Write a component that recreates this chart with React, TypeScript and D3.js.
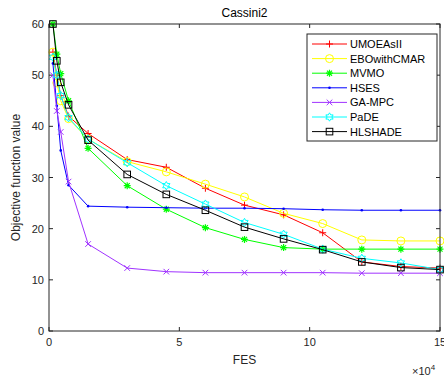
import React from "react";
import * as d3 from "d3";

const fes = [0.15, 0.3, 0.45, 0.75, 1.5, 3, 4.5, 6, 7.5, 9, 10.5, 12, 13.5, 15];
const umoeasII = [54.5, 50, 46, 42, 38.6, 33.5, 32, 27.9, 24.6, 22.7, 19.2, 13.5, 12.6, 12.3];
const eboWithCmar = [54.5, 48.5, 45, 41.5, 37.5, 33.1, 31.1, 28.7, 26.2, 23.0, 21.0, 17.8, 17.6, 17.6];
const mvmo = [60, 54.1, 50.3, 45, 35.7, 28.4, 23.8, 20.2, 17.9, 16.3, 16.0, 16.0, 16.0, 16.0];
const hses = [52.3, 44, 35.3, 28.5, 24.4, 24.2, 24.1, 24.0, 24.0, 23.9, 23.7, 23.6, 23.6, 23.6];
const gaMpc = [50, 43, 38.9, 29.2, 17, 12.3, 11.6, 11.4, 11.4, 11.4, 11.4, 11.3, 11.3, 11.3];
const paDE = [53.5, 50, 46, 41.7, 37.5, 32.9, 28.4, 24.8, 21.2, 18.9, 16.0, 14.2, 13.3, 12.0];
const hlshade = [60, 52.8, 48.6, 44.2, 37.3, 30.6, 26.7, 23.6, 20.3, 18.0, 15.9, 13.5, 12.4, 12.0];

const seriesNames = ["UMOEAsII", "EBOwithCMAR", "MVMO", "HSES", "GA-MPC", "PaDE", "HLSHADE"];
const seriesValues = [umoeasII, eboWithCmar, mvmo, hses, gaMpc, paDE, hlshade];
const seriesColors = ["#ff0000", "#ffff00", "#00ff00", "#0000ff", "#a033ff", "#00ffff", "#000000"];
const seriesMarkers = ["plus", "circle", "star", "dot", "cross", "hexagram", "square"];

const xTicks = [0, 5, 10, 15];
const yTicks = [0, 10, 20, 30, 40, 50, 60];

const W = 444, H = 378;
const L = 49, R = 440, T = 24, B = 331;
const FONT = "'Liberation Sans', Arial, Helvetica, sans-serif";
const AX = "#262626";

function Marker({ kind, x, y, color }: { kind: string; x: number; y: number; color: string }) {
  const s = 3.5;
  switch (kind) {
    case "plus":
      return <path d={`M${x - s},${y}H${x + s}M${x},${y - s}V${y + s}`} stroke={color} strokeWidth={1} fill="none" />;
    case "circle":
      return <circle cx={x} cy={y} r={4} stroke={color} strokeWidth={1} fill="none" />;
    case "star": {
      const d = s * 0.72;
      return (
        <path
          d={`M${x - s},${y}H${x + s}M${x},${y - s}V${y + s}M${x - d},${y - d}L${x + d},${y + d}M${x - d},${y + d}L${x + d},${y - d}`}
          stroke={color}
          strokeWidth={1.2}
          fill="none"
        />
      );
    }
    case "dot":
      return <circle cx={x} cy={y} r={1.3} fill={color} />;
    case "cross": {
      const d = 2.8;
      return <path d={`M${x - d},${y - d}L${x + d},${y + d}M${x - d},${y + d}L${x + d},${y - d}`} stroke={color} strokeWidth={1} fill="none" />;
    }
    case "hexagram": {
      const ro = 4.2, ri = 2.4;
      const pts: string[] = [];
      for (let i = 0; i < 12; i++) {
        const a = -Math.PI / 2 + (i * Math.PI) / 6;
        const r = i % 2 === 0 ? ro : ri;
        pts.push(`${x + r * Math.cos(a)},${y + r * Math.sin(a)}`);
      }
      return <polygon points={pts.join(" ")} stroke={color} strokeWidth={1} fill="none" />;
    }
    case "square":
      return <rect x={x - 3.3} y={y - 3.3} width={6.6} height={6.6} stroke={color} strokeWidth={1} fill="none" />;
    default:
      return null;
  }
}

export default function App() {
  const x = d3.scaleLinear().domain([0, 15]).range([L, R]);
  const y = d3.scaleLinear().domain([0, 60]).range([B, T]);
  const line = d3
    .line<number>()
    .x((_, i) => x(fes[i]))
    .y((d) => y(d));

  const legX = 307, legY = 34, legW = 130, legH = 107;
  const rowH = 14.6;

  return (
    <svg width={W} height={H} style={{ position: "absolute", left: 0, top: 0, background: "#fff" }} fontFamily={FONT}>
      <rect x={0} y={0} width={W} height={H} fill="#fff" />
      <defs>
        <clipPath id="plotclip">
          <rect x={L - 6} y={T - 6} width={R - L + 12} height={B - T + 12} />
        </clipPath>
      </defs>
      {/* ticks */}
      {xTicks.map((t) => (
        <g key={"xt" + t}>
          <line x1={x(t)} x2={x(t)} y1={B} y2={B - 4} stroke={AX} />
          <line x1={x(t)} x2={x(t)} y1={T} y2={T + 4} stroke={AX} />
          <text x={x(t)} y={B + 15} textAnchor="middle" fontSize={11} fill={AX}>
            {t}
          </text>
        </g>
      ))}
      {yTicks.map((t) => (
        <g key={"yt" + t}>
          <line x1={L} x2={L + 4} y1={y(t)} y2={y(t)} stroke={AX} />
          <line x1={R} x2={R - 4} y1={y(t)} y2={y(t)} stroke={AX} />
          <text x={L - 5} y={y(t) + 4} textAnchor="end" fontSize={11} fill={AX}>
            {t}
          </text>
        </g>
      ))}
      {/* series */}
      <g clipPath="url(#plotclip)">
        {seriesValues.map((vals, si) => (
          <g key={seriesNames[si]}>
            <path d={line(vals) || ""} stroke={seriesColors[si]} strokeWidth={1} fill="none" />
            {vals.map((v, i) => (
              <Marker key={i} kind={seriesMarkers[si]} x={x(fes[i])} y={y(v)} color={seriesColors[si]} />
            ))}
          </g>
        ))}
      </g>
      {/* box */}
      <rect x={L} y={T} width={R - L} height={B - T} fill="none" stroke={AX} strokeWidth={1} />
      {/* title */}
      <text x={(L + R) / 2} y={T - 7} textAnchor="middle" fontSize={12} fill="#000">
        Cassini2
      </text>
      {/* axis labels */}
      <text x={(L + R) / 2} y={B + 33} textAnchor="middle" fontSize={12} fill={AX}>
        FES
      </text>
      <text transform={`translate(${L - 29},${(T + B) / 2}) rotate(-90)`} textAnchor="middle" fontSize={12} fill={AX}>
        Objective function value
      </text>
      <text x={R - 28} y={B + 44} fontSize={11} fill={AX}>
        ×10
        <tspan dy={-5} fontSize={8}>
          4
        </tspan>
      </text>
      {/* legend */}
      <rect x={legX} y={legY} width={legW} height={legH} fill="#fff" stroke={AX} strokeWidth={1} />
      {seriesNames.map((n, i) => {
        const cy = legY + 10 + i * rowH;
        return (
          <g key={"lg" + n}>
            <line x1={legX + 5} x2={legX + 40} y1={cy} y2={cy} stroke={seriesColors[i]} strokeWidth={1} />
            <Marker kind={seriesMarkers[i]} x={legX + 22.5} y={cy} color={seriesColors[i]} />
            <text x={legX + 43} y={cy + 4} fontSize={11} fill="#000">
              {n}
            </text>
          </g>
        );
      })}
    </svg>
  );
}
